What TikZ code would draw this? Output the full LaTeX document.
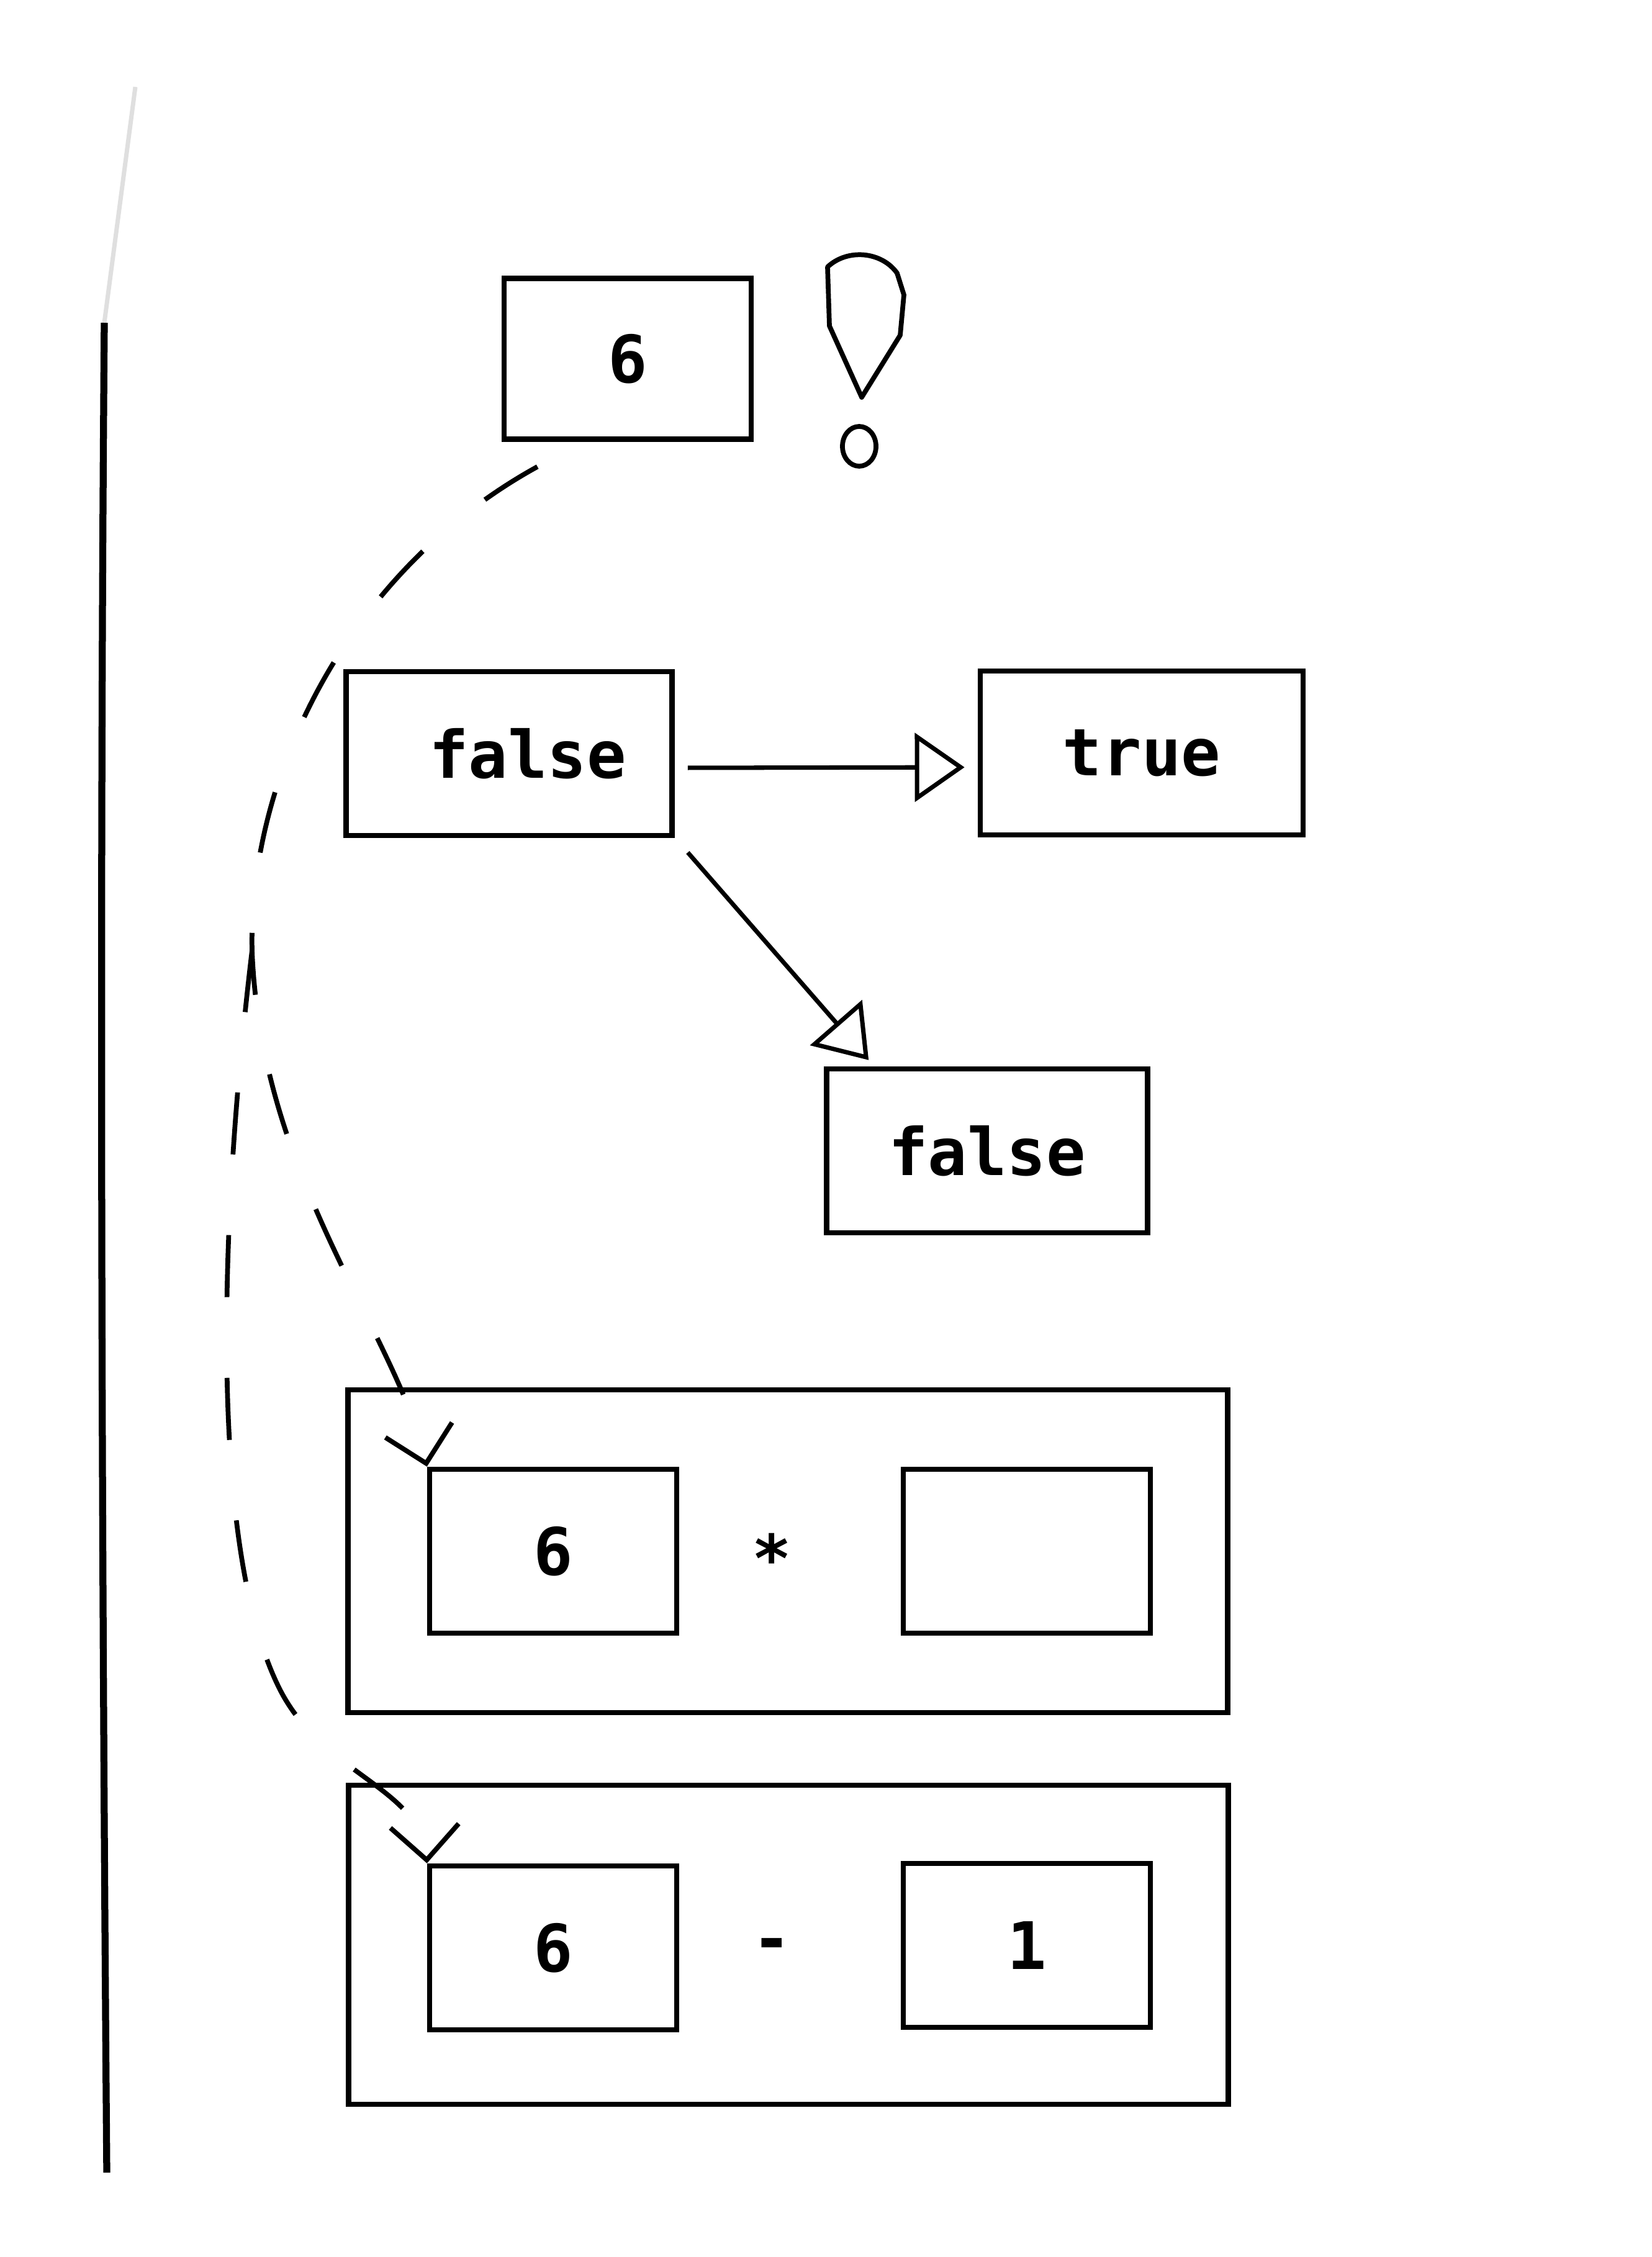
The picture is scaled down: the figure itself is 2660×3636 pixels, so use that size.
\documentclass[tikz,border=0pt]{standalone}
\usepackage{fontspec}
\setmonofont{DejaVu Sans Mono}
\usetikzlibrary{arrows.meta}

\begin{document}
\begin{tikzpicture}[x=0.01cm,y=-0.01cm,
  cell/.style={draw,line width=2.4pt,inner sep=0pt,minimum width=3.98cm,minimum height=2.64cm,
    font=\ttfamily\bfseries\fontsize{30}{36}\selectfont},
  wide/.style={cell,minimum width=5.25cm},
  frame/.style={draw,line width=2.4pt,inner sep=0pt,minimum width=14.16cm,minimum height=5.2cm},
  op/.style={font=\ttfamily\bfseries\fontsize{30}{36}\selectfont},
  tri/.style={line width=2pt,-{Triangle[open,length=0.8cm,width=1.1cm,line width=2pt]}},
  link/.style={line width=2.2pt,dash pattern=on 1cm off 1.3cm,
    -{Straight Barb[length=0.55cm,width=1.1cm,line width=2.2pt]}}]
  \useasboundingbox (0,0) rectangle (2660,3636);
  % page edge
  \draw[gray!25,line width=2pt] (218,140) -- (168,520);
  \draw[line width=3.2pt] (168,520) .. controls (160,1500) and (164,2500) .. (172,3500);
  % value and mark
  \node[cell,minimum height=2.59cm] (top6) at (1011,578) {6};
  \draw[line width=2.2pt,line join=round] (1388,640) -- (1336,525) -- (1333,430)
    .. controls (1365,400) and (1420,405) .. (1445,440) -- (1456,475) -- (1450,540) -- cycle;
  \draw[line width=2.2pt] (1384,719) ellipse [x radius=0.27cm,y radius=0.32cm];
  % booleans
  \node[wide] (fal1) at (820,1214) {\hspace*{0.6cm}false};
  \node[wide,minimum width=5.2cm] (tru) at (1839,1213) {true};
  \node[wide,minimum width=5.17cm] (fal2) at (1590,1854) {false};
  \draw[tri,shorten <=0.21cm,shorten >=0.21cm] ([yshift=-0.23cm]fal1.east) -- ([yshift=-0.23cm]tru.west);
  \draw[tri] ([xshift=0.21cm,yshift=-0.23cm]fal1.south east) -- ([xshift=0.72cm,yshift=0.1cm]fal2.north west);
  % expressions
  \node[frame] (row1) at (1269,2499) {};
  \node[cell] (a6) at (891,2499) {6};
  \node[op] (times) at (1243,2509) {*};
  \node[cell] (blank) at (1654,2499) {};
  \node[frame,minimum height=5.14cm] (row2) at (1270,3133) {};
  \node[cell] (b6) at (891,3138) {6};
  \node[op] (minus) at (1243,3142) {-};
  \node[cell] (one) at (1654,3134) {1};
  % dashed links
  \coordinate (fork) at (406,1531);
  \draw[link] ([xshift=0.58cm,yshift=-0.4cm]top6.south west) .. controls (560,920) and (400,1250) .. (fork)
    .. controls (420,1900) and (640,2150) .. (a6.north west);
  \draw[link] (fork) .. controls (350,2000) and (340,2500) .. (450,2720)
    .. controls (520,2860) and (680,2880) .. (b6.north west);
\end{tikzpicture}
\end{document}
